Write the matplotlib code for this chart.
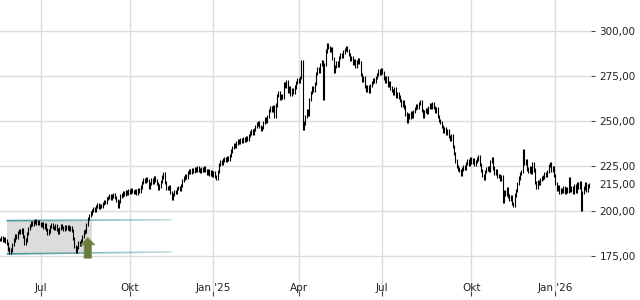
import numpy as np
import pandas as pd
import matplotlib
matplotlib.use("Agg")
import matplotlib.pyplot as plt
from matplotlib.collections import LineCollection
from matplotlib.patches import Rectangle, Polygon

# ---------------- data ----------------
closes = [
    184.5, 185.5, 184.0, 185.0, 183.5, 182.0, 179.0, 177.0, 178.5, 181.5,
    184.0, 186.5, 185.5, 188.0, 189.5, 188.5, 190.0, 186.0, 182.0, 184.0,
    187.5, 190.5, 192.0, 193.5, 192.5, 194.0, 195.0, 193.0, 194.5, 193.0,
    192.0, 193.0, 191.0, 192.5, 190.0, 187.5, 189.0, 191.5, 192.5, 191.0,
    190.5, 192.0, 190.0, 188.0, 190.5, 192.0, 191.0, 190.0, 191.5, 190.5,
    191.5, 190.0, 191.0, 189.5, 185.0, 180.5, 177.5, 180.0, 182.5, 181.5,
    183.5, 186.0, 188.5, 189.0, 192.5, 196.0, 197.5, 199.0, 200.5, 201.5,
    200.5, 202.5, 203.5, 202.0, 203.0, 202.5, 204.5, 205.5, 205.0, 207.0,
    207.5, 208.5, 207.0, 208.5, 209.0, 207.5, 206.0, 202.5, 205.5, 208.5,
    209.0, 210.5, 209.5, 211.0, 210.0, 211.5, 210.5, 212.0, 211.0, 210.5,
    211.5, 210.0, 212.0, 211.0, 213.5, 216.0, 217.5, 216.5, 218.0, 217.0,
    213.5, 215.5, 217.5, 216.0, 218.5, 217.0, 215.5, 213.0, 214.0, 216.5,
    219.0, 221.0, 216.0, 213.0, 212.5, 213.5, 210.5, 207.0, 209.5, 211.0,
    210.5, 212.5, 213.0, 212.0, 214.5, 217.0, 218.5, 220.0, 219.0, 221.5,
    222.5, 221.5, 223.0, 222.0, 223.5, 222.5, 224.0, 223.0, 222.0, 223.5,
    223.0, 224.0, 222.5, 221.0, 222.5, 220.5, 222.0, 220.0, 221.5, 219.5,
    218.5, 222.0, 226.0, 227.5, 226.5, 228.5, 229.5, 228.5, 230.0, 229.0,
    231.0, 233.5, 235.5, 237.0, 236.0, 238.0, 239.5, 238.5, 240.0, 239.0,
    240.5, 239.5, 241.0, 240.0, 242.0, 243.5, 245.0, 243.5, 245.5, 247.0,
    248.5, 249.5, 247.0, 245.5, 246.5, 249.5, 251.5, 250.0, 252.5, 256.0,
    257.5, 256.0, 258.0, 252.5, 259.0, 264.5, 266.0, 263.0, 264.5, 263.5,
    271.0, 269.5, 272.0, 266.5, 268.5, 265.0, 267.5, 266.0, 269.0, 271.5,
    273.0, 272.0, 274.5, 283.0, 246.0, 249.0, 252.5, 256.0, 254.0, 262.0,
    266.0, 268.5, 267.0, 271.0, 276.5, 279.0, 277.5, 281.5, 283.0, 262.5,
    281.5, 289.0, 292.5, 291.0, 289.5, 290.5, 285.0, 278.0, 280.5, 282.5,
    281.0, 285.5, 287.0, 286.0, 288.5, 290.0, 291.0, 289.5, 287.0, 284.5,
    285.5, 282.0, 283.5, 280.5, 283.0, 284.0, 282.5, 276.0, 272.5, 274.0,
    269.5, 267.0, 269.5, 266.5, 270.0, 271.5, 273.0, 272.0, 274.5, 276.0,
    278.0, 276.5, 278.5, 277.0, 274.0, 272.0, 274.5, 270.0, 271.5, 268.5,
    267.0, 265.5, 268.0, 264.0, 265.5, 263.5, 261.5, 259.0, 261.0, 258.0,
    254.0, 250.0, 253.5, 252.0, 255.0, 253.0, 255.5, 257.0, 258.5, 257.5,
    260.0, 261.0, 256.0, 253.0, 255.5, 256.5, 255.0, 257.5, 259.5, 258.0,
    260.0, 257.5, 255.5, 257.0, 252.5, 250.5, 249.5, 247.0, 244.5, 246.0,
    243.5, 245.0, 241.5, 240.0, 242.0, 236.0, 232.0, 228.0, 225.0, 223.5,
    222.5, 220.5, 223.5, 225.0, 224.0, 226.5, 228.0, 226.0, 229.0, 227.0,
    228.5, 226.0, 227.5, 229.0, 230.5, 226.0, 222.5, 220.0, 218.5, 222.0,
    223.5, 224.5, 223.0, 227.5, 229.5, 224.0, 221.0, 222.5, 219.5, 220.0,
    218.0, 219.5, 205.5, 211.0, 209.5, 212.5, 208.5, 206.5, 208.0, 204.5,
    203.0, 209.0, 211.5, 215.5, 218.5, 221.0, 222.0, 233.5, 226.5, 228.0,
    223.5, 222.0, 224.5, 221.5, 226.5, 223.0, 216.0, 213.5, 216.5, 215.5,
    217.5, 218.5, 219.0, 221.0, 220.0, 222.0, 225.5, 226.5, 222.5, 224.0,
    220.0, 215.5, 212.0, 213.5, 210.5, 212.0, 211.0, 213.0, 210.5, 212.5,
    211.0, 218.0, 211.5, 213.0, 210.5, 214.0, 211.0, 215.5, 213.5, 216.0,
    201.0, 210.5, 213.0, 215.5, 211.5, 214.0, 215.0,
]

start_date = "2024-05-20"
end_date = "2026-02-06"
exchange_holidays = [
    "2024-12-24", "2024-12-25", "2024-12-26", "2024-12-31", "2025-01-01",
    "2025-04-18", "2025-04-21", "2025-05-01",
    "2025-12-24", "2025-12-25", "2025-12-26", "2025-12-31", "2026-01-01",
]

x_tick_months = ["2024-07", "2024-10", "2025-01", "2025-04", "2025-07", "2025-10", "2026-01"]
x_tick_labels = ["Jul", "Okt", "Jan '25", "Apr", "Jul", "Okt", "Jan '26"]

y_grid_values = [175, 200, 225, 250, 275, 300]
y_tick_values = [175, 200, 215, 225, 250, 275, 300]
y_tick_labels = ["175,00", "200,00", "215,00", "225,00", "250,00", "275,00", "300,00"]
last_price = 215

box_dates = ["2024-05-27", "2024-08-22"]
channel_dates = ["2024-05-27", "2024-11-13"]
channel_top = [194.8, 195.3]
channel_bottom = [176.3, 177.4]

arrow_date = "2024-08-19"
arrow_tip = 185.5
arrow_head_base = 181.3
arrow_tail = 173.9

# ---------------- trading-day axis ----------------
days = pd.bdate_range(start_date, end_date)
days = days[~days.isin(pd.to_datetime(exchange_holidays))]
days = days[: len(closes)]
pos = np.arange(len(closes))


def day_index(d):
    return int(np.searchsorted(days.values, np.datetime64(pd.Timestamp(d))))


tick_pos = [day_index(m + "-01") for m in x_tick_months]

# ---------------- figure ----------------
fig = plt.figure(figsize=(6.4, 3.0), dpi=100)
ax = fig.add_axes([0, 9 / 300, 591 / 640, 291 / 300])
ax.set_xlim(0, 591 / 1.351)
ax.set_ylim(155.7, 317.4)
for s in ax.spines.values():
    s.set_visible(False)

grid_c = "#dcdcdc"
for v in y_grid_values:
    ax.axhline(v, color=grid_c, lw=1.0, zorder=0)
for p in tick_pos:
    ax.axvline(p, color=grid_c, lw=1.0, zorder=0)

# consolidation box
b0, b1 = day_index(box_dates[0]), day_index(box_dates[1])
ax.add_patch(Rectangle((b0, channel_bottom[0]), b1 - b0, channel_top[0] - channel_bottom[0],
                       facecolor="#dcdcdc", edgecolor="none", zorder=1))

# channel lines (fading)
c0, c1 = day_index(channel_dates[0]), day_index(channel_dates[1])
nseg = 60
for yl in (channel_top, channel_bottom):
    xs = np.linspace(c0, c1, nseg + 1)
    ys = np.linspace(yl[0], yl[1], nseg + 1)
    segs = [[(xs[k], ys[k]), (xs[k + 1], ys[k + 1])] for k in range(nseg)]
    alphas = np.linspace(1.0, 0.3, nseg)
    cols = [(0.23, 0.58, 0.59, a) for a in alphas]
    ax.add_collection(LineCollection(segs, colors=cols, linewidths=1.2, zorder=3))

# price bars (open = previous close)
prev = np.concatenate([[closes[0]], closes[:-1]])
cur = np.array(closes)
lo = np.minimum(prev, cur) - 0.9
hi = np.maximum(prev, cur) + 0.9
ax.vlines(pos, lo, hi, color="black", lw=0.8, zorder=4)

# breakout arrow
ai = day_index(arrow_date)
hw, sw = 5.3, 2.8
arrow_pts = [
    (ai - sw, arrow_tail), (ai - sw, arrow_head_base), (ai - hw, arrow_head_base),
    (ai, arrow_tip), (ai + hw, arrow_head_base), (ai + sw, arrow_head_base),
    (ai + sw, arrow_tail),
]
ax.add_patch(Polygon(arrow_pts, closed=True, facecolor="#6b7b40", edgecolor="#8a9a60",
                     lw=0.5, zorder=5))

# x ticks
ax.set_xticks(tick_pos)
ax.set_xticklabels(x_tick_labels)
ax.tick_params(axis="x", direction="out", length=3.6, width=0.8, color="#444444",
               pad=-2.4, labelsize=7.5, labelcolor="#222222")
for lbl in ax.get_xticklabels():
    lbl.set_va("bottom")

# y ticks on right
ax.yaxis.tick_right()
ax.set_yticks(y_tick_values)
ax.set_yticklabels(y_tick_labels)
ax.tick_params(axis="y", direction="out", length=3, width=0.8, color="#444444",
               pad=3, labelsize=7.5, labelcolor="#222222")
for t, v in zip(ax.yaxis.get_major_ticks(), y_tick_values):
    if v == last_price:
        t.tick1line.set_visible(False)
        t.tick2line.set_visible(False)

fig.savefig("out.png", dpi=100)
